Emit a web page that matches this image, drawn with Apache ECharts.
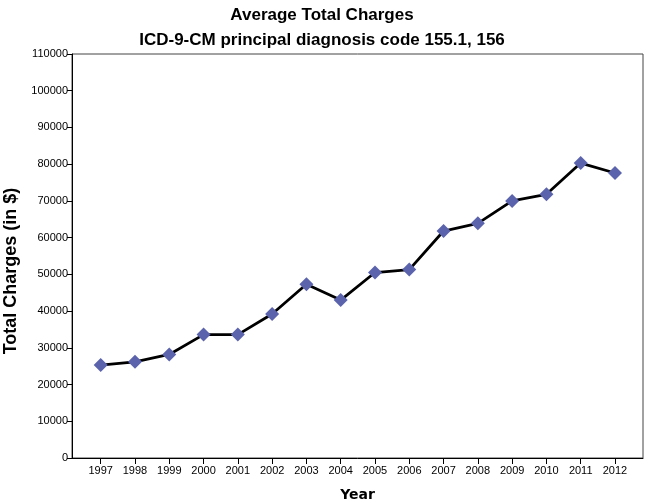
<!DOCTYPE html>
<html>
<head>
<meta charset="utf-8">
<script src="https://cdn.jsdelivr.net/npm/echarts@6/dist/echarts.min.js"></script>
<style>
  html, body { margin: 0; padding: 0; background: #fff; }
  #chart { width: 650px; height: 504px; }
</style>
</head>
<body>
<div id="chart"></div>
<script>
// data
var years = [1997, 1998, 1999, 2000, 2001, 2002, 2003, 2004, 2005, 2006, 2007, 2008, 2009, 2010, 2011, 2012];
var charges = [25300, 26200, 28200, 33600, 33600, 39200, 47300, 43000, 50500, 51300, 61800, 63900, 70000, 71800, 80300, 77600];
var yTicks = [0, 10000, 20000, 30000, 40000, 50000, 60000, 70000, 80000, 90000, 100000, 110000];

var myChart = echarts.init(document.getElementById("chart"));

var points = years.map(function (y, i) { return [y, charges[i]]; });

var titleFont = {
    fontFamily: 'Liberation Sans, Arial',
    fontSize: 17,
    fontWeight: 'bold',
    color: '#000'
};

var option = {
    backgroundColor: '#fff',
    animation: false,
    title: [
        { text: 'Average Total Charges', left: 317, textAlign: 'center', top: 2, textStyle: titleFont },
        { text: 'ICD-9-CM principal diagnosis code 155.1, 156', left: 317, textAlign: 'center', top: 27, textStyle: titleFont }
    ],
    grid: {
        left: 72,
        right: 7,
        top: 54,
        bottom: 46,
        outerBoundsMode: 'none',
        containLabel: false,
        show: true,
        borderColor: '#444',
        borderWidth: 1
    },
    xAxis: {
        type: 'value',
        min: 1996.163,
        max: 2012.817,
        name: 'Year',
        nameLocation: 'middle',
        nameGap: 30,
        nameTextStyle: {
            fontFamily: 'DejaVu Sans, Verdana',
            fontSize: 14,
            fontWeight: 'bold',
            color: '#000'
        },
        splitLine: { show: false },
        axisLine: { lineStyle: { color: '#000', width: 1 } },
        axisTick: {
            customValues: years,
            length: 6,
            lineStyle: { color: '#000' }
        },
        axisLabel: {
            customValues: years,
            formatter: function (v) { return String(v); },
            fontFamily: 'Liberation Sans, Arial',
            fontSize: 11,
            color: '#000',
            margin: 7
        }
    },
    yAxis: {
        type: 'value',
        min: 0,
        max: 110000,
        interval: 10000,
        name: 'Total Charges (in $)',
        nameLocation: 'middle',
        nameGap: 52,
        nameTextStyle: {
            fontFamily: 'Liberation Sans, Arial',
            fontSize: 18,
            fontWeight: 'bold',
            color: '#000',
            padding: [0, 30, 0, 0]
        },
        splitLine: { show: false },
        axisLine: { show: true, lineStyle: { color: '#000', width: 1 } },
        axisTick: { show: true, length: 5, lineStyle: { color: '#000' } },
        axisLabel: {
            formatter: function (v) { return String(v); },
            fontFamily: 'Liberation Sans, Arial',
            fontSize: 11,
            color: '#000',
            margin: 4
        }
    },
    series: [
        {
            type: 'line',
            data: points,
            symbol: 'diamond',
            symbolSize: 14,
            lineStyle: { color: '#000', width: 2.8 },
            itemStyle: { color: '#5b63ad' },
            z: 3
        }
    ]
};

myChart.setOption(option);
window.addEventListener("resize", function () {
    myChart.resize();
});
</script>
</body>
</html>
